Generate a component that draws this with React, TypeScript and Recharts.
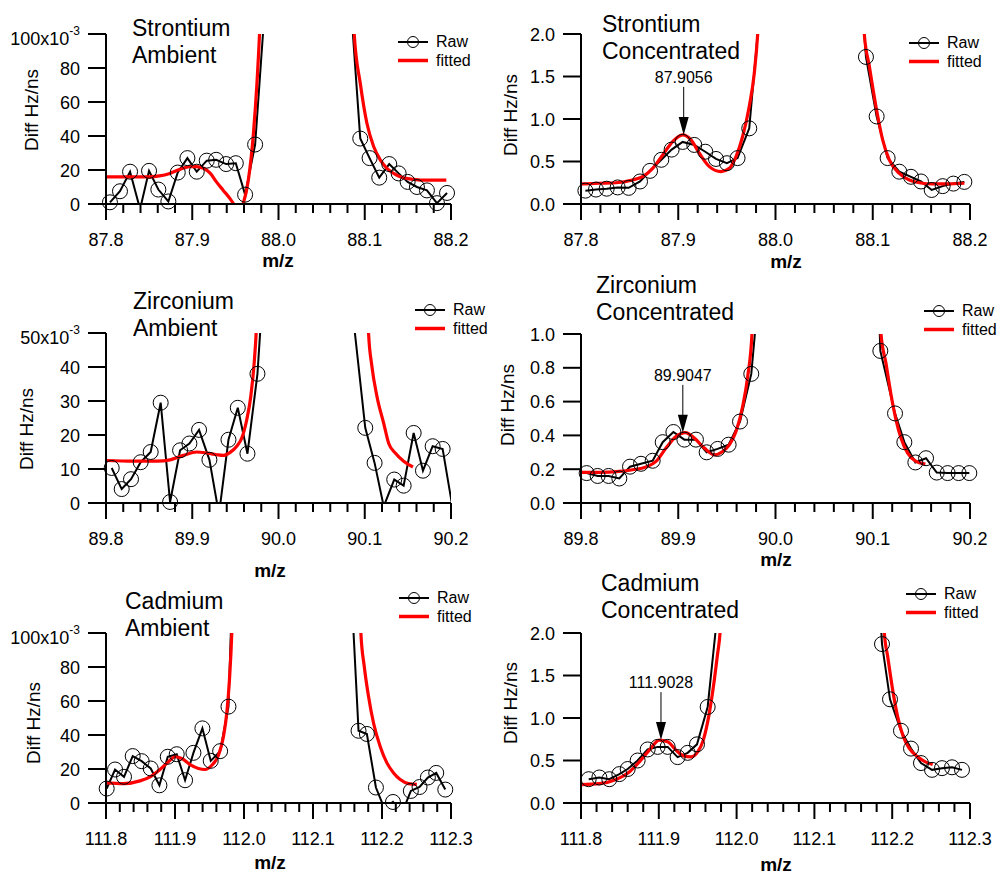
import React from "react";
import { ComposedChart, Line, ReferenceDot, XAxis, YAxis } from "recharts";

const FONT = '"Liberation Sans", Arial, Helvetica, sans-serif';
const INK = "#000";
const RED = "#ff0000";

type Pt = [number, number];

// ---- data (m/z, Diff Hz/ns); ambient panels are in units of 1e-3 ----------

const srAmbRaw: Pt[] = [
  [87.8046, 1], [87.8162, 7.5], [87.8279, 19], [87.8395, -3], [87.8499, 19.5],
  [87.8607, 8.5], [87.8723, 1.5], [87.8832, 18.5], [87.8944, 27], [87.9052, 19],
  [87.9168, 25.5], [87.9277, 26], [87.9393, 23.5], [87.9505, 24], [87.9613, 5.5],
  [87.9729, 35], [87.9845, 118], [88.0832, 122], [88.0948, 38.5], [88.1056, 27],
  [88.1168, 15.5], [88.1284, 23.5], [88.1393, 18], [88.1497, 13], [88.1605, 10],
  [88.1721, 8], [88.1837, 0.5], [88.1954, 6.5],
];
const srAmbFit: Pt[] = [
  [87.8, 16], [87.83, 16], [87.85, 16], [87.862, 16.5], [87.874, 18], [87.886, 20.5],
  [87.897, 22], [87.905, 22], [87.913, 21], [87.921, 18], [87.928, 13], [87.936, 8],
  [87.944, 3], [87.948, 0], [87.9535, -6], [87.959, 0], [87.965, 14], [87.971, 42],
  [87.975, 71], [87.978, 100], [87.981, 140], [88.085, 140], [88.0878, 100],
  [88.0948, 71], [88.1025, 47.5], [88.1102, 34], [88.118, 26], [88.1257, 21],
  [88.1335, 18], [88.1412, 16], [88.1567, 14.5], [88.1721, 14], [88.1946, 14],
];

const srConcRaw: Pt[] = [
  [87.8045, 0.157], [87.8154, 0.17], [87.8264, 0.18], [87.8377, 0.195], [87.849, 0.19],
  [87.8607, 0.265], [87.871, 0.39], [87.8826, 0.52], [87.8932, 0.64], [87.9045, 0.73],
  [87.9165, 0.695], [87.9278, 0.615], [87.9388, 0.53], [87.95, 0.48], [87.961, 0.54],
  [87.973, 0.89], [87.984, 2.3], [88.0817, 3.5], [88.093, 1.73], [88.104, 1.03],
  [88.1153, 0.54], [88.1273, 0.38], [88.1393, 0.32], [88.1496, 0.265], [88.1606, 0.165],
  [88.1719, 0.21], [88.1829, 0.24], [88.1942, 0.26],
];
const srConcFit: Pt[] = [
  [87.8, 0.236], [87.819, 0.244], [87.836, 0.25], [87.853, 0.283], [87.8634, 0.322],
  [87.8737, 0.42], [87.884, 0.578], [87.8943, 0.735], [87.9045, 0.813], [87.9131, 0.754],
  [87.9217, 0.597], [87.932, 0.44], [87.944, 0.381], [87.9525, 0.42], [87.9594, 0.558],
  [87.9662, 0.794], [87.973, 1.147], [87.9782, 1.54], [87.9817, 2.0], [87.984, 2.5],
  [88.089, 2.5], [88.0913, 2.0], [88.0965, 1.62], [88.1033, 1.147], [88.1102, 0.754],
  [88.117, 0.519], [88.1273, 0.361], [88.1376, 0.283], [88.1479, 0.25], [88.1616, 0.236],
  [88.1753, 0.236], [88.1942, 0.244],
];

const zrAmbRaw: Pt[] = [
  [89.8066, 10.3], [89.8182, 4.1], [89.829, 7], [89.8402, 12], [89.8518, 15],
  [89.8634, 29.5], [89.8743, 0.3], [89.8859, 15.5], [89.8967, 17.5], [89.9079, 21.5],
  [89.9199, 12.7], [89.931, -3.3], [89.942, 18.6], [89.9528, 28], [89.964, 14.5],
  [89.9756, 38], [89.9872, 83], [90.086, 56], [90.1006, 22.1], [90.1114, 11.8],
  [90.122, -1], [90.1342, 6.9], [90.1451, 5.1], [90.1567, 20.6], [90.1675, 9.5],
  [90.1787, 16.7], [90.1903, 15.9], [90.2019, -1.5],
];
const zrAmbFit: Pt[] = [
  [89.8, 12.5], [89.8317, 12.3], [89.8588, 12.3], [89.8743, 12.7], [89.8897, 14],
  [89.9052, 15], [89.9168, 14.7], [89.9284, 14.2], [89.9362, 14], [89.9439, 14.9],
  [89.9516, 16.7], [89.9574, 19.1], [89.9632, 24.5], [89.9679, 31.4], [89.9718, 41.2],
  [89.9741, 50], [89.9765, 65], [90.1025, 65], [90.1044, 50], [90.1083, 40.2],
  [90.1141, 31.4], [90.1219, 23.5], [90.1277, 17.6], [90.1354, 14.7], [90.1451, 12.3],
  [90.1559, 10.6],
];

const zrConcRaw: Pt[] = [
  [89.8058, 0.177], [89.8171, 0.16], [89.8284, 0.16], [89.8394, 0.145], [89.8504, 0.215],
  [89.8617, 0.232], [89.8737, 0.25], [89.884, 0.36], [89.895, 0.42], [89.9063, 0.375],
  [89.9182, 0.375], [89.9292, 0.3], [89.9405, 0.32], [89.9518, 0.345], [89.9635, 0.482],
  [89.9751, 0.764], [89.9866, 1.5], [90.096, 3], [90.1078, 0.9], [90.1229, 0.53],
  [90.1325, 0.36], [90.1438, 0.24], [90.1548, 0.265], [90.1658, 0.18], [90.177, 0.177],
  [90.1883, 0.177], [90.1993, 0.177],
];
const zrConcFit: Pt[] = [
  [89.8, 0.181], [89.8189, 0.181], [89.8394, 0.187], [89.8531, 0.197], [89.8668, 0.213],
  [89.8771, 0.246], [89.8874, 0.325], [89.8977, 0.394], [89.9073, 0.417], [89.9165, 0.384],
  [89.9268, 0.325], [89.937, 0.285], [89.9457, 0.305], [89.9525, 0.344], [89.9594, 0.423],
  [89.9662, 0.571], [89.9714, 0.748], [89.9758, 1.0], [89.978, 1.3], [90.107, 1.3],
  [90.1085, 1.0], [90.1136, 0.827], [90.1188, 0.64], [90.1239, 0.492], [90.129, 0.384],
  [90.1359, 0.295], [90.1445, 0.246], [90.1541, 0.23],
];

const cdAmbRaw: Pt[] = [
  [111.801, 8.5], [111.8131, 19.7], [111.8261, 15.4], [111.8387, 27.6], [111.8517, 24.6],
  [111.8648, 20.3], [111.8774, 10.4], [111.8895, 27.2], [111.9025, 28.7], [111.9146, 13.4],
  [111.9267, 29.5], [111.9397, 43.9], [111.9518, 24.8], [111.9654, 30.5], [111.9775, 56.7],
  [111.99, 215], [112.1535, 142], [112.166, 42.5], [112.1781, 40.6], [112.1912, 9.1],
  [112.2033, -3], [112.2159, 0.6], [112.2288, -6], [112.2418, 7.1], [112.2544, 9.4],
  [112.2665, 15], [112.2786, 17.7], [112.2917, 7.9],
];
const cdAmbFit: Pt[] = [
  [111.8, 11.8], [111.8251, 11.4], [111.8493, 13], [111.8638, 15.4], [111.8783, 19.7],
  [111.8904, 24.2], [111.9001, 27.2], [111.9098, 26.2], [111.9219, 22.6], [111.934, 20.3],
  [111.9436, 19.7], [111.9533, 22.2], [111.963, 28.1], [111.9702, 39], [111.975, 52.8],
  [111.9789, 72.4], [111.9823, 100], [111.985, 140], [112.1675, 140], [112.1694, 100],
  [112.1743, 80.3], [112.1805, 62.6], [112.1878, 46.9], [112.1975, 33.1], [112.2071, 23.6],
  [112.2168, 17.7], [112.2264, 13.8], [112.2385, 11.4], [112.2505, 11],
];

const cdConcRaw: Pt[] = [
  [111.8099, 0.28], [111.8236, 0.3], [111.8364, 0.28], [111.8493, 0.34], [111.86, 0.4],
  [111.8728, 0.5], [111.8857, 0.63], [111.8985, 0.66], [111.9114, 0.66], [111.9242, 0.54],
  [111.9371, 0.59], [111.9491, 0.69], [111.9628, 1.13], [111.9757, 2.26], [112.174, 4],
  [112.1869, 1.87], [112.1972, 1.22], [112.2113, 0.85], [112.2242, 0.64], [112.237, 0.47],
  [112.2512, 0.39], [112.264, 0.41], [112.2769, 0.42], [112.2897, 0.39],
];
const cdConcFit: Pt[] = [
  [111.8, 0.217], [111.8236, 0.228], [111.845, 0.276], [111.8621, 0.366], [111.875, 0.484],
  [111.8878, 0.622], [111.9007, 0.74], [111.9114, 0.72], [111.9221, 0.622], [111.9328, 0.551],
  [111.9414, 0.543], [111.95, 0.602], [111.9572, 0.74], [111.9641, 1.016], [111.9714, 1.449],
  [111.9757, 1.764], [111.9787, 2.0], [111.981, 2.4], [112.188, 2.4], [112.1899, 2.0],
  [112.1942, 1.724], [112.2006, 1.331], [112.207, 1.016], [112.2143, 0.78], [112.222, 0.642],
  [112.2327, 0.543], [112.2426, 0.484], [112.252, 0.453],
];

// ---- ticks ---------------------------------------------------------------

const srMzTicks = [87.8, 87.9, 88.0, 88.1, 88.2];
const zrMzTicks = [89.8, 89.9, 90.0, 90.1, 90.2];
const cdMzTicks = [111.8, 111.9, 112.0, 112.1, 112.2, 112.3];
const amb100Ticks = [0, 20, 40, 60, 80, 100];
const amb50Ticks = [0, 10, 20, 30, 40, 50];
const conc2Ticks = [0, 0.5, 1.0, 1.5, 2.0];
const conc1Ticks = [0, 0.2, 0.4, 0.6, 0.8, 1.0];

// 4 minor ticks between majors
function withMinor(majors: number[]) {
  const out: number[] = [];
  for (let i = 0; i < majors.length - 1; i++) {
    const a = majors[i];
    const b = majors[i + 1];
    for (let k = 0; k < 5; k++) out.push(a + ((b - a) * k) / 5);
  }
  out.push(majors[majors.length - 1]);
  return out;
}

const toRows = (pts: Pt[]) => pts.map(([mz, v]) => ({ mz, v }));

interface Panel {
  key: string;
  raw: Pt[];
  fit: Pt[];
  mzTicks: number[];
  yTicks: number[];
  yDec: number;
  sup?: boolean;
  peak?: { mz: number; v: number; text: string };
  plot: { left: number; top: number; width: number; height: number };
  title: [string, string];
  titleX: number;
  titleY: number;
  legendX: number;
  legendY: number;
  yLabelX: number;
  yLabelY: number;
  xLabelX: number;
  xLabelY: number;
}

const PANELS: Panel[] = [
  {
    key: "sr-amb", raw: srAmbRaw, fit: srAmbFit, mzTicks: srMzTicks, yTicks: amb100Ticks, yDec: 0, sup: true,
    plot: { left: 106, top: 34, width: 345, height: 170 },
    title: ["Strontium", "Ambient"], titleX: 132, titleY: 36,
    legendX: 436, legendY: 47, yLabelX: 38, yLabelY: 110, xLabelX: 278, xLabelY: 267,
  },
  {
    key: "sr-conc", raw: srConcRaw, fit: srConcFit, mzTicks: srMzTicks, yTicks: conc2Ticks, yDec: 1,
    peak: { mz: 87.9056, v: 0.813, text: "87.9056" },
    plot: { left: 581, top: 34, width: 389, height: 170 },
    title: ["Strontium", "Concentrated"], titleX: 602, titleY: 32,
    legendX: 947, legendY: 48, yLabelX: 517, yLabelY: 115, xLabelX: 786, xLabelY: 268,
  },
  {
    key: "zr-amb", raw: zrAmbRaw, fit: zrAmbFit, mzTicks: zrMzTicks, yTicks: amb50Ticks, yDec: 0, sup: true,
    plot: { left: 106, top: 333, width: 345, height: 170 },
    title: ["Zirconium", "Ambient"], titleX: 133, titleY: 309,
    legendX: 453, legendY: 315, yLabelX: 33, yLabelY: 429, xLabelX: 270, xLabelY: 577,
  },
  {
    key: "zr-conc", raw: zrConcRaw, fit: zrConcFit, mzTicks: zrMzTicks, yTicks: conc1Ticks, yDec: 1,
    peak: { mz: 89.9047, v: 0.415, text: "89.9047" },
    plot: { left: 581, top: 334, width: 389, height: 169 },
    title: ["Zirconium", "Concentrated"], titleX: 596, titleY: 293,
    legendX: 962, legendY: 316, yLabelX: 514, yLabelY: 405, xLabelX: 776, xLabelY: 566,
  },
  {
    key: "cd-amb", raw: cdAmbRaw, fit: cdAmbFit, mzTicks: cdMzTicks, yTicks: amb100Ticks, yDec: 0, sup: true,
    plot: { left: 106, top: 633, width: 345, height: 170 },
    title: ["Cadmium", "Ambient"], titleX: 125, titleY: 609,
    legendX: 437, legendY: 603, yLabelX: 40, yLabelY: 723, xLabelX: 270, xLabelY: 869,
  },
  {
    key: "cd-conc", raw: cdConcRaw, fit: cdConcFit, mzTicks: cdMzTicks, yTicks: conc2Ticks, yDec: 1,
    peak: { mz: 111.9028, v: 0.74, text: "111.9028" },
    plot: { left: 581, top: 633, width: 389, height: 170 },
    title: ["Cadmium", "Concentrated"], titleX: 601, titleY: 591,
    legendX: 944, legendY: 599, yLabelX: 517, yLabelY: 703, xLabelX: 776, xLabelY: 871,
  },
];

// ---- axis ticks / annotation --------------------------------------------

function XTick(props: any) {
  const { x, y, payload, majors } = props;
  const major = majors.some((m: number) => Math.abs(m - payload.value) < 1e-6);
  return (
    <g>
      <line x1={x} y1={y} x2={x} y2={y + (major ? 16 : 9)} stroke={INK} strokeWidth={2} />
      {major && (
        <text x={x} y={y + 42} textAnchor="middle" fontSize={18} fontFamily={FONT} fill={INK}>
          {Number(payload.value).toFixed(1)}
        </text>
      )}
    </g>
  );
}

function YTick(props: any) {
  const { x, y, payload, top, dec, sup } = props;
  const v = Number(payload.value);
  const txt = v.toFixed(dec);
  if (sup && Math.abs(v - top) < 1e-9) {
    return (
      <text x={x} y={y + 11} textAnchor="end" fontSize={18} fontFamily={FONT} fill={INK}>
        {txt}x10
        <tspan dy={-10} fontSize={12}>-3</tspan>
      </text>
    );
  }
  return (
    <text x={x} y={y + 6.5} textAnchor="end" fontSize={18} fontFamily={FONT} fill={INK}>
      {txt}
    </text>
  );
}

function PeakArrow({ cx, cy, text }: { cx: number; cy: number; text: string }) {
  return (
    <g>
      <line x1={cx} y1={cy - 48} x2={cx} y2={cy - 17} stroke={INK} strokeWidth={1} />
      <polygon points={`${cx},${cy} ${cx - 5},${cy - 18} ${cx + 5},${cy - 18}`} fill={INK} />
      <text x={cx} y={cy - 52} textAnchor="middle" fontSize={16} fontFamily={FONT} fill={INK}>
        {text}
      </text>
    </g>
  );
}

// ---- one panel ------------------------------------------------------------

const ML = 46;
const YW = 60;
const MT = 34;
const XH = 30;
const MB = 46;
const MR = 28;

function PanelChart({ p }: { p: Panel }) {
  const { left, top, width, height } = p.plot;
  const yMax = p.yTicks[p.yTicks.length - 1];
  const xMin = p.mzTicks[0];
  const xMax = p.mzTicks[p.mzTicks.length - 1];
  const rawData = toRows(p.raw);
  const fitData = toRows(p.fit);
  // markers are only drawn where the point sits inside the axes
  const markData = rawData.filter((d) => d.v >= 0 && d.v <= yMax && d.mz >= xMin && d.mz <= xMax);
  return (
    <div style={{ position: "absolute", left: left - ML - YW, top: top - MT }}>
      <ComposedChart
        width={width + ML + YW + MR}
        height={height + MT + XH + MB}
        margin={{ top: MT, right: MR, bottom: MB, left: ML }}
      >
        <XAxis
          type="number"
          dataKey="mz"
          domain={[xMin, xMax]}
          allowDataOverflow
          ticks={withMinor(p.mzTicks)}
          interval={0}
          tickSize={0}
          tickMargin={0}
          tickLine={false}
          height={XH}
          axisLine={{ stroke: INK, strokeWidth: 2 }}
          tick={(t: any) => <XTick {...t} majors={p.mzTicks} />}
        />
        <YAxis
          type="number"
          domain={[0, yMax]}
          allowDataOverflow
          ticks={p.yTicks}
          interval={0}
          tickSize={18}
          tickMargin={8}
          width={YW}
          tickLine={{ stroke: INK, strokeWidth: 2 }}
          axisLine={{ stroke: INK, strokeWidth: 2 }}
          tick={(t: any) => <YTick {...t} top={yMax} dec={p.yDec} sup={p.sup} />}
        />
        <Line
          data={rawData}
          dataKey="v"
          type="linear"
          stroke={INK}
          strokeWidth={2}
          dot={false}
          activeDot={false}
          isAnimationActive={false}
        />
        <Line
          data={markData}
          dataKey="v"
          type="linear"
          stroke="none"
          dot={{ r: 7.5, stroke: INK, strokeWidth: 1, fill: "none", clipDot: false }}
          activeDot={false}
          isAnimationActive={false}
        />
        <Line
          data={fitData}
          dataKey="v"
          type="monotone"
          stroke={RED}
          strokeWidth={3.2}
          dot={false}
          activeDot={false}
          isAnimationActive={false}
        />
        {p.peak && (
          <ReferenceDot
            x={p.peak.mz}
            y={p.peak.v}
            shape={(s: any) => <PeakArrow cx={s.cx} cy={s.cy} text={p.peak!.text} />}
          />
        )}
      </ComposedChart>
    </div>
  );
}

function PanelText({ p }: { p: Panel }) {
  const lx = p.legendX;
  const ly = p.legendY;
  return (
    <g fontFamily={FONT} fill={INK}>
      <text x={p.titleX} y={p.titleY} fontSize={23}>{p.title[0]}</text>
      <text x={p.titleX} y={p.titleY + 26.5} fontSize={23}>{p.title[1]}</text>

      <line x1={lx - 38} x2={lx - 8} y1={ly - 5} y2={ly - 5} stroke={INK} strokeWidth={2} />
      <circle cx={lx - 23} cy={ly - 5} r={5.5} fill="none" stroke={INK} strokeWidth={1} />
      <text x={lx} y={ly} fontSize={16}>Raw</text>
      <line x1={lx - 38} x2={lx - 8} y1={ly + 13.5} y2={ly + 13.5} stroke={RED} strokeWidth={3.5} />
      <text x={lx} y={ly + 18.5} fontSize={16}>fitted</text>

      <text
        transform={`translate(${p.yLabelX},${p.yLabelY}) rotate(-90)`}
        textAnchor="middle"
        fontSize={19}
      >
        Diff Hz/ns
      </text>
      <text x={p.xLabelX} y={p.xLabelY} textAnchor="middle" fontSize={19} fontWeight="bold">
        m/z
      </text>
    </g>
  );
}

export default function App() {
  return (
    <div style={{ position: "absolute", left: 0, top: 0, width: 998, height: 878, background: "#fff", overflow: "hidden" }}>
      {PANELS.map((p) => (
        <PanelChart key={p.key} p={p} />
      ))}
      <svg width={998} height={878} style={{ position: "absolute", left: 0, top: 0, pointerEvents: "none" }}>
        {PANELS.map((p) => (
          <PanelText key={p.key} p={p} />
        ))}
      </svg>
    </div>
  );
}
